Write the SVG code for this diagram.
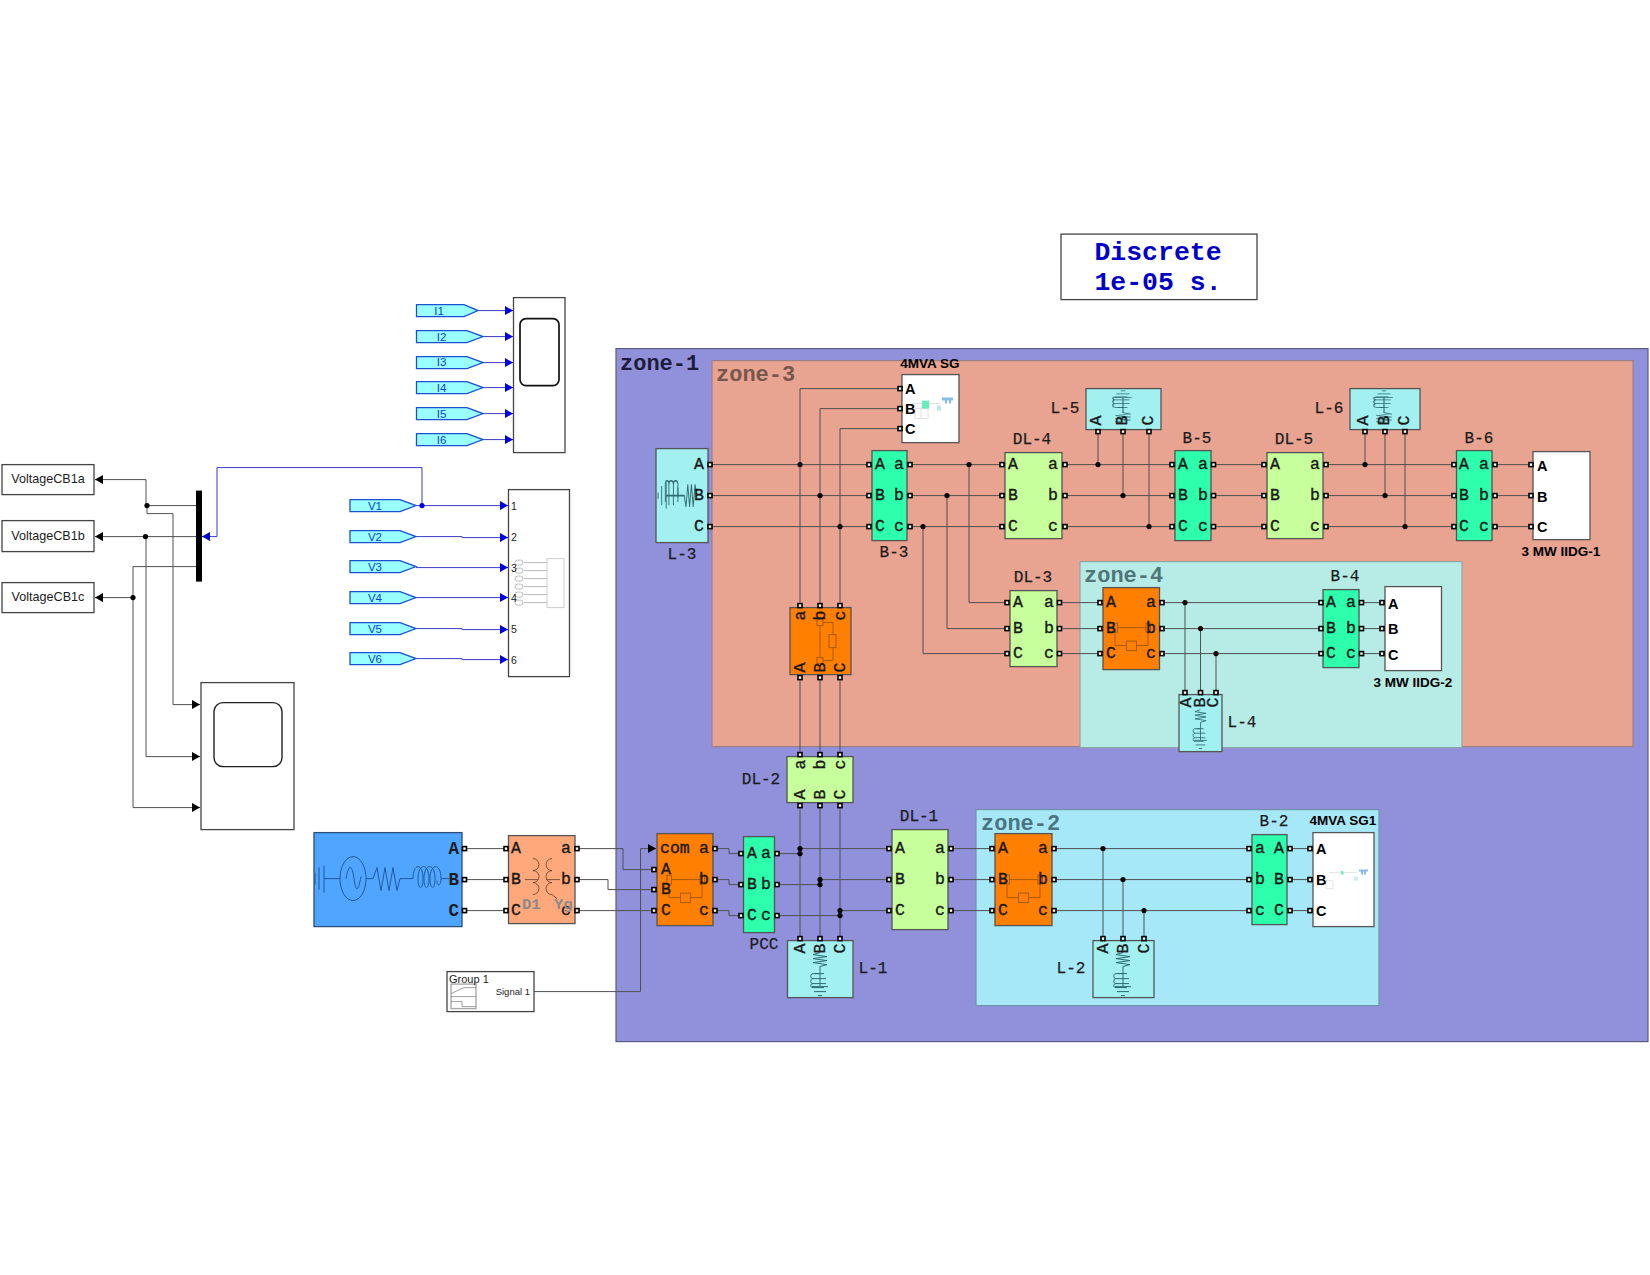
<svg xmlns="http://www.w3.org/2000/svg" width="1650" height="1275" viewBox="0 0 1650 1275">
<style>
text{font-family:"Liberation Mono","DejaVu Sans Mono",monospace;fill:#1c1c1c}
.zone{stroke-width:1.2}
.z{font-size:22px;font-weight:700}
.lb{font-size:16px;text-anchor:middle;dominant-baseline:central;stroke:#1c1c1c;stroke-width:.25}
.b,.br,.bv{font-size:16.5px;dominant-baseline:central;stroke:#111;stroke-width:.35}
.br{text-anchor:end}
.bv{text-anchor:middle}
.big{font-size:17.5px;font-weight:700;stroke:none}
.s{font-family:"Liberation Sans",Arial,sans-serif;font-weight:700;font-size:14.5px;fill:#000;dominant-baseline:central}
.sc{font-family:"Liberation Sans",Arial,sans-serif;font-weight:700;font-size:13.5px;fill:#000;text-anchor:middle;dominant-baseline:central}
.bk{stroke:#555;stroke-width:1.3}
.wire{fill:none;stroke:#505050;stroke-width:1}
.blue{fill:none;stroke:#3a3ac8;stroke-width:1}
.port{fill:#fff;stroke:#000;stroke-width:1.6}
.dot{fill:#000}
.sw{fill:#fff;stroke:#444;stroke-width:1.3}
.goto{fill:#99ffff;stroke:#1c50d0;stroke-width:1.3}
.gt{font-family:"Liberation Sans",Arial,sans-serif;font-size:11.5px;fill:#0a3fd8;text-anchor:middle;dominant-baseline:central}
.num{font-family:"Liberation Sans",Arial,sans-serif;font-size:10.5px;fill:#222;dominant-baseline:central}
.v{font-family:"Liberation Sans",Arial,sans-serif;font-size:12.6px;text-anchor:middle;dominant-baseline:central}
.ic{fill:none;stroke:#2f6a70;stroke-width:1}
.br1{fill:none;stroke:#a85a10;stroke-width:1}
.grey{fill:none;stroke:#bbb;stroke-width:1}
</style>
<defs>
<marker id="ab" markerUnits="userSpaceOnUse" markerWidth="9" markerHeight="10" refX="8" refY="4.5" orient="auto"><path d="M0 0L8 4.500L0 9z" fill="#000"/></marker>
<marker id="bb" markerUnits="userSpaceOnUse" markerWidth="9" markerHeight="10" refX="8" refY="4.5" orient="auto"><path d="M0 0L8 4.500L0 9z" fill="#0000e0"/></marker>
<rect id="p" class="port" x="-2" y="-2" width="4" height="4"/>
<circle id="d" class="dot" r="2.600"/>
<g id="load" class="ic">
<path d="M0 -2L-7 0L7 2L-7 4L7 6L-7 8L7 10L0 12V19H-5"/>
<path d="M-7 19h11M-7 19c-3 0-3 5 0 5h13M-7 24c-3 0-3 5 0 5h13M-7 29c-3 0-3 4 0 4h11"/>
<path d="M0 19V32M-8 32H8M-6 37H6M-2 41H2"/>
</g>
<g id="brk" class="br1">
<rect x="10" y="-4.500" width="4.500" height="9"/>
<rect x="43" y="-4.500" width="4.500" height="9"/>
<path d="M14.500 0H43M12 4.500V18H23.500M33.500 18H45V4.500"/>
<rect x="23.500" y="13.500" width="10" height="9.500"/>
</g>
</defs>
<g transform="translate(0 .6)">

<g id="zones">
<rect id="zone-1" class="zone" x="616" y="348" width="1032" height="693" fill="#9190da" stroke="#5c5c88"/>
<rect id="zone-3" class="zone" x="712" y="360" width="921" height="386" fill="#e8a391" stroke="#9b8088"/>
<rect id="zone-4" class="zone" x="1080" y="561" width="382" height="186" fill="#b7ece6" stroke="#8fa5a5"/>
<rect id="zone-2" class="zone" x="976" y="809" width="403" height="196" fill="#a6e8f8" stroke="#6e93a8"/>
<text class="z" x="620" y="369" style="fill:#1d1d3c">zone-1</text>
<text class="z" x="716" y="380" style="fill:#77574c">zone-3</text>
<text class="z" x="1084" y="581" style="fill:#4f7679">zone-4</text>
<text class="z" x="981" y="829" style="fill:#4a7580">zone-2</text>
</g>

<g id="connectors">
<g class="wire">
<path d="M196 505H147V513H173V704H200" marker-end="url(#ab)"/>
<path d="M147 505H146V479H95" marker-end="url(#ab)"/>
<path d="M196 536H95" marker-end="url(#ab)"/>
<path d="M146 536V756H200" marker-end="url(#ab)"/>
<path d="M196 566H133V807H200" marker-end="url(#ab)"/>
<path d="M133 597H95" marker-end="url(#ab)"/>
<path d="M534 991H640.500V848H656" marker-end="url(#ab)"/>
<path d="M710 464H869M710 495H869M710 526H869"/>
<path d="M800 605V388H900M820 605V408H900M840 605V428H900"/>
<path d="M910 464H1002M910 495H1002M910 526H1002"/>
<path d="M969 464V602H1007M947 495V628H1007M923 526V653H1007"/>
<path d="M1059 602H1100M1059 628H1100M1059 653H1100"/>
<path d="M1065 464H1172M1065 495H1172M1065 526H1172"/>
<path d="M1098 464V431M1123 495V431M1149 526V431"/>
<path d="M1213 464H1264M1213 495H1264M1213 526H1264"/>
<path d="M1326 464H1454M1326 495H1454M1326 526H1454"/>
<path d="M1365 464V431M1385 495V431M1405 526V431"/>
<path d="M1495 464H1531M1495 495H1531M1495 526H1531"/>
<path d="M1162 602H1321M1162 628H1321M1162 653H1321"/>
<path d="M1185 602V692M1200.500 628V692M1216 653V692"/>
<path d="M1361.500 602H1382M1361.500 628H1382M1361.500 653H1382"/>
<path d="M800 677V754M820 677V754M840 677V754"/>
<path d="M800 805V938M820 805V938M840 805V938"/>
<path d="M464 848H506M464 879H506M464 910H506"/>
<path d="M577 848H623V869H654M577 879H608V889H654M577 910H654"/>
<path d="M715 848H729V853H741M715 879H729V884H741M715 910H729V915H741"/>
<path d="M777 853H800M777 884H820M777 915H840"/>
<path d="M800 848H889M820 879H889M840 910H889"/>
<path d="M951 848H992M951 879H992M951 910H992"/>
<path d="M1054 848H1249M1054 879H1249M1054 910H1249"/>
<path d="M1103 848V938M1123 879V938M1144 910V938"/>
<path d="M1290 848H1310M1290 879H1310M1290 910H1310"/>
</g>
<g class="blue">
<path d="M478 310H513" marker-end="url(#bb)"/>
<path d="M483 336H513" marker-end="url(#bb)"/>
<path d="M483 362H513" marker-end="url(#bb)"/>
<path d="M483 387H513" marker-end="url(#bb)"/>
<path d="M483 413H513" marker-end="url(#bb)"/>
<path d="M483 439H513" marker-end="url(#bb)"/>
<path d="M416 505H508" marker-end="url(#bb)"/>
<path d="M416 536H462V537H508" marker-end="url(#bb)"/>
<path d="M416 567H508" marker-end="url(#bb)"/>
<path d="M416 597H508" marker-end="url(#bb)"/>
<path d="M416 628H462V629H508" marker-end="url(#bb)"/>
<path d="M416 658H462V659H508" marker-end="url(#bb)"/>
<path d="M422 505V467H217V536H202" marker-end="url(#bb)"/>
</g>
<circle cx="422" cy="505" r="2.600" fill="#0000e0"/>
<g>
<use href="#d" x="147" y="505"/><use href="#d" x="145.500" y="536"/><use href="#d" x="133" y="597"/>
<use href="#d" x="800" y="464"/><use href="#d" x="820" y="495"/><use href="#d" x="840" y="526"/>
<use href="#d" x="969" y="464"/><use href="#d" x="947" y="495"/><use href="#d" x="923" y="526"/>
<use href="#d" x="1098" y="464"/><use href="#d" x="1123" y="495"/><use href="#d" x="1149" y="526"/>
<use href="#d" x="1365" y="464"/><use href="#d" x="1385" y="495"/><use href="#d" x="1405" y="526"/>
<use href="#d" x="1185" y="602"/><use href="#d" x="1200.500" y="628"/><use href="#d" x="1216" y="653"/>
<use href="#d" x="800" y="848"/><use href="#d" x="800" y="853"/><use href="#d" x="820" y="879"/><use href="#d" x="820" y="884"/><use href="#d" x="840" y="910"/><use href="#d" x="840" y="915"/>
<use href="#d" x="1103" y="848"/><use href="#d" x="1123" y="879"/><use href="#d" x="1144" y="910"/>
</g>
</g>

<g id="powergui">
<rect class="sw" x="1061" y="233.500" width="196" height="65.500"/>
<text x="1158" y="259" text-anchor="middle" font-weight="700" style="fill:#0000c8;font-size:26.500px">Discrete</text>
<text x="1158" y="289" text-anchor="middle" font-weight="700" style="fill:#0000c8;font-size:26.500px">1e-05 s.</text>
</g>

<g id="from-voltage">
<g id="VoltageCB1a"><rect class="sw" x="2" y="464" width="92" height="30"/><text class="v" x="48" y="478.500">VoltageCB1a</text></g>
<g id="VoltageCB1b"><rect class="sw" x="2" y="520" width="92" height="31"/><text class="v" x="48" y="535">VoltageCB1b</text></g>
<g id="VoltageCB1c"><rect class="sw" x="2" y="582" width="92" height="30"/><text class="v" x="48" y="596">VoltageCB1c</text></g>
</g>
<rect id="demux" x="196" y="490" width="6" height="91" fill="#000"/>
<g id="scope-voltage">
<rect class="sw" x="201" y="682" width="93" height="147"/>
<rect x="214" y="702" width="68" height="64" rx="9" fill="#fff" stroke="#222" stroke-width="1.400"/>
</g>
<g id="scope-current">
<rect class="sw" x="513.500" y="297" width="51.500" height="155"/>
<rect x="520" y="318" width="39" height="67" rx="6" fill="#fff" stroke="#111" stroke-width="1.700"/>
</g>
<g id="gotos-I">
<path class="goto" d="M416.500 304H464L478 310L464 316H416.500z"/><text class="gt" x="439" y="310">I1</text>
<path class="goto" d="M416.500 330H467L483 336L467 342H416.500z"/><text class="gt" x="441.500" y="336">I2</text>
<path class="goto" d="M416.500 356H467L483 362L467 368H416.500z"/><text class="gt" x="441.500" y="361">I3</text>
<path class="goto" d="M416.500 381H467L483 387L467 393H416.500z"/><text class="gt" x="441.500" y="387">I4</text>
<path class="goto" d="M416.500 407H467L483 413L467 419H416.500z"/><text class="gt" x="441.500" y="413">I5</text>
<path class="goto" d="M416.500 433H467L483 439L467 445H416.500z"/><text class="gt" x="441.500" y="439">I6</text>
</g>
<g id="gotos-V">
<path class="goto" d="M350 499H400L416 505L400 511H350z"/><text class="gt" x="375" y="505">V1</text>
<path class="goto" d="M350 530H400L416 536L400 542H350z"/><text class="gt" x="375" y="536">V2</text>
<path class="goto" d="M350 560H400L416 566L400 572H350z"/><text class="gt" x="375" y="566">V3</text>
<path class="goto" d="M350 591H400L416 597L400 603H350z"/><text class="gt" x="375" y="597">V4</text>
<path class="goto" d="M350 622H400L416 628L400 634H350z"/><text class="gt" x="375" y="628">V5</text>
<path class="goto" d="M350 652H400L416 658L400 664H350z"/><text class="gt" x="375" y="658">V6</text>
</g>
<g id="scope-logger">
<rect class="sw" x="508.500" y="489" width="61" height="187"/>
<rect x="547" y="558" width="17" height="49" fill="#fff" stroke="#ccc"/>
<path class="grey" d="M524 562H547M524 570H547M524 578H547M524 586H547M524 594H547M524 602H547"/>
<g class="grey" style="fill:#fff"><rect x="515" y="559.500" width="8" height="5" rx="2.500"/><rect x="515" y="567.500" width="8" height="5" rx="2.500"/><rect x="515" y="575.500" width="8" height="5" rx="2.500"/><rect x="515" y="583.500" width="8" height="5" rx="2.500"/><rect x="515" y="591.500" width="8" height="5" rx="2.500"/><rect x="515" y="599.500" width="8" height="5" rx="2.500"/></g>
<text class="num" x="511" y="505">1</text><text class="num" x="511" y="536">2</text><text class="num" x="511" y="567">3</text><text class="num" x="511" y="597">4</text><text class="num" x="511" y="628">5</text><text class="num" x="511" y="659">6</text>
</g>

<g id="source">
<rect x="314" y="832" width="148" height="94" fill="#4fa5ff" stroke="#2a4f7a" stroke-width="1.300"/>
<g fill="none" stroke="#1f5a9e" stroke-width="1">
<path d="M315 872V884M319 867V889M324 865V892M324 878H340"/>
<ellipse cx="353" cy="878" rx="13" ry="22"/>
<path d="M346 878C349 862 352 864 354 878S358 892 361 876M366 878H373L377 867L381 890L385 867L389 890L393 867L397 890L400 878H413"/>
<path d="M413 878C413 862 423 862 423 878C423 890 418 890 418 878C418 862 429 862 429 878C429 890 424 890 424 878C424 862 435 862 435 878C435 890 430 890 430 878C430 862 441 862 441 878C441 886 437 886 437 880M441 878H449"/>
</g>
<text class="br big" x="459" y="848">A</text><text class="br big" x="459" y="879">B</text><text class="br big" x="459" y="910">C</text>
<use href="#p" x="464.500" y="848"/><use href="#p" x="464.500" y="879"/><use href="#p" x="464.500" y="910"/>
</g>

<g id="transformer">
<rect class="bk" x="508.500" y="835" width="66.500" height="88" fill="#ffa87c"/>
<g fill="none" stroke="#6e4a30" stroke-width=".9">
<path d="M533 858a6 6 0 0 1 0 12a6 6 0 0 1 0 12a6 6 0 0 1 0 12M525 879H538"/>
<path d="M552 858a6 6 0 0 0 0 12a6 6 0 0 0 0 12a6 6 0 0 0 0 12L557 898M546 879H560"/>
</g>
<text class="b" x="511" y="848">A</text><text class="b" x="511" y="879">B</text><text class="b" x="511" y="910">C</text>
<text class="br" x="571" y="848">a</text><text class="br" x="571" y="879">b</text><text class="br" x="571" y="910">c</text>
<text x="522" y="908" style="fill:#8b8b8b;font-size:15.500px;font-weight:700">D1</text>
<text x="554" y="908" style="fill:#8b8b8b;font-size:15.500px;font-weight:700">Yg</text>
<use href="#p" x="506" y="848"/><use href="#p" x="506" y="879"/><use href="#p" x="506" y="910"/>
<use href="#p" x="577" y="848"/><use href="#p" x="577" y="879"/><use href="#p" x="577" y="910"/>
</g>

<g id="group1">
<rect class="sw" x="447" y="971" width="87" height="40"/>
<rect x="451" y="983.500" width="25" height="24.500" fill="#fff" stroke="#aaa" stroke-width="1.400"/>
<path d="M451 996H476M451 993L464 987H476M451 1001H462V1006H476" fill="none" stroke="#888" stroke-width=".8"/>
<text x="449" y="982" style="font-family:'Liberation Sans',sans-serif;font-size:11px">Group 1</text>
<text x="530" y="991" text-anchor="end" dominant-baseline="central" style="font-family:'Liberation Sans',sans-serif;font-size:9.500px">Signal 1</text>
</g>

<g id="breaker-com">
<rect class="bk" x="657" y="833" width="56" height="92" fill="#ff7f00"/>
<use href="#brk" x="657" y="879"/>
<text class="b" x="660" y="848">com</text><text class="br" x="709" y="848">a</text>
<text class="b" x="661" y="869">A</text><text class="b" x="661" y="889">B</text><text class="b" x="661" y="910">C</text>
<text class="br" x="709" y="879">b</text><text class="br" x="709" y="910">c</text>
<use href="#p" x="654" y="869"/><use href="#p" x="654" y="889"/><use href="#p" x="654" y="910"/>
<use href="#p" x="715" y="848"/><use href="#p" x="715" y="879"/><use href="#p" x="715" y="910"/>
</g>

<g id="PCC">
<rect class="bk" x="743.500" y="836" width="31" height="96" fill="#2dffad"/>
<text class="b" x="747" y="853">A</text><text class="b" x="747" y="884">B</text><text class="b" x="747" y="915">C</text>
<text class="br" x="771" y="853">a</text><text class="br" x="771" y="884">b</text><text class="br" x="771" y="915">c</text>
<use href="#p" x="741" y="853"/><use href="#p" x="741" y="884"/><use href="#p" x="741" y="915"/>
<use href="#p" x="777" y="853"/><use href="#p" x="777" y="884"/><use href="#p" x="777" y="915"/>
<text class="lb" x="764" y="944">PCC</text>
</g>

<g id="DL-2">
<rect class="bk" x="787" y="756" width="66" height="46" fill="#c6ff9b"/>
<text class="bv" transform="translate(800 764) rotate(-90)">a</text><text class="bv" transform="translate(820 764) rotate(-90)">b</text><text class="bv" transform="translate(840 764) rotate(-90)">c</text>
<text class="bv" transform="translate(800 794) rotate(-90)">A</text><text class="bv" transform="translate(820 794) rotate(-90)">B</text><text class="bv" transform="translate(840 794) rotate(-90)">C</text>
<use href="#p" x="800" y="754"/><use href="#p" x="820" y="754"/><use href="#p" x="840" y="754"/>
<use href="#p" x="800" y="805"/><use href="#p" x="820" y="805"/><use href="#p" x="840" y="805"/>
<text class="lb" x="761" y="779">DL-2</text>
</g>

<g id="L-1">
<rect class="bk" x="787.500" y="940" width="65.500" height="57" fill="#a3f0f0"/>
<use href="#load" x="820" y="954"/>
<text class="bv" transform="translate(800 948) rotate(-90)">A</text><text class="bv" transform="translate(820 948) rotate(-90)">B</text><text class="bv" transform="translate(840 948) rotate(-90)">C</text>
<use href="#p" x="800" y="938"/><use href="#p" x="820" y="938"/><use href="#p" x="840" y="938"/>
<text class="lb" x="873" y="968">L-1</text>
</g>

<g id="DL-1">
<rect class="bk" x="892" y="829" width="56" height="100" fill="#c6ff9b"/>
<text class="b" x="895" y="848">A</text><text class="b" x="895" y="879">B</text><text class="b" x="895" y="910">C</text>
<text class="br" x="945" y="848">a</text><text class="br" x="945" y="879">b</text><text class="br" x="945" y="910">c</text>
<use href="#p" x="889" y="848"/><use href="#p" x="889" y="879"/><use href="#p" x="889" y="910"/>
<use href="#p" x="951" y="848"/><use href="#p" x="951" y="879"/><use href="#p" x="951" y="910"/>
<text class="lb" x="919" y="816">DL-1</text>
</g>

<g id="breaker-2">
<rect class="bk" x="995" y="833" width="57" height="92" fill="#ff7f00"/>
<use href="#brk" x="995" y="879"/>
<text class="b" x="998" y="848">A</text><text class="b" x="998" y="879">B</text><text class="b" x="998" y="910">C</text>
<text class="br" x="1048" y="848">a</text><text class="br" x="1048" y="879">b</text><text class="br" x="1048" y="910">c</text>
<use href="#p" x="992" y="848"/><use href="#p" x="992" y="879"/><use href="#p" x="992" y="910"/>
<use href="#p" x="1054" y="848"/><use href="#p" x="1054" y="879"/><use href="#p" x="1054" y="910"/>
</g>

<g id="L-2">
<rect class="bk" x="1093" y="940" width="61" height="57" fill="#a3f0f0"/>
<use href="#load" x="1123" y="954"/>
<text class="bv" transform="translate(1103 948) rotate(-90)">A</text><text class="bv" transform="translate(1123 948) rotate(-90)">B</text><text class="bv" transform="translate(1144 948) rotate(-90)">C</text>
<use href="#p" x="1103" y="938"/><use href="#p" x="1123" y="938"/><use href="#p" x="1144" y="938"/>
<text class="lb" x="1071" y="968">L-2</text>
</g>

<g id="B-2">
<rect class="bk" x="1252" y="834" width="35" height="90" fill="#2dffad"/>
<text class="b" x="1255" y="848">a</text><text class="b" x="1255" y="879">b</text><text class="b" x="1255" y="910">c</text>
<text class="br" x="1284" y="848">A</text><text class="br" x="1284" y="879">B</text><text class="br" x="1284" y="910">C</text>
<use href="#p" x="1249" y="848"/><use href="#p" x="1249" y="879"/><use href="#p" x="1249" y="910"/>
<use href="#p" x="1290" y="848"/><use href="#p" x="1290" y="879"/><use href="#p" x="1290" y="910"/>
<text class="lb" x="1274" y="821">B-2</text>
</g>

<g id="SG1">
<rect class="bk" x="1313" y="832" width="61" height="94" fill="#fff"/>
<path d="M1329 872H1357M1326 880H1333V888H1326z" fill="none" stroke="#ddd" stroke-width=".8"/>
<rect x="1341" y="870.500" width="2.500" height="3.500" fill="#66eebb"/>
<path d="M1359 869H1368V871H1366V874H1364V871H1363V874H1361V871H1359z" fill="#88bbe8"/>
<rect x="1354" y="876" width="4" height="4" fill="#c8eef4"/>
<text class="s" x="1316" y="848">A</text><text class="s" x="1316" y="879">B</text><text class="s" x="1316" y="910">C</text>
<use href="#p" x="1310" y="848"/><use href="#p" x="1310" y="879"/><use href="#p" x="1310" y="910"/>
<text class="sc" x="1343" y="820">4MVA SG1</text>
</g>

<g id="L-3">
<rect class="bk" x="656" y="448" width="52" height="94" fill="#a3f0f0"/>
<use href="#load" transform="translate(695 495) rotate(90) scale(1.600 .9)"/>
<text class="br" x="704" y="464">A</text><text class="br" x="704" y="495">B</text><text class="br" x="704" y="526">C</text>
<use href="#p" x="710" y="464"/><use href="#p" x="710" y="495"/><use href="#p" x="710" y="526"/>
<text class="lb" x="682" y="554">L-3</text>
</g>

<g id="SG">
<rect class="bk" x="902" y="374" width="57" height="68" fill="#fff"/>
<path d="M912 403H940M915 408H928V418H915zM921 408V418" fill="none" stroke="#ddd" stroke-width=".9"/>
<rect x="922" y="400" width="7" height="8" fill="#66eebb"/>
<path d="M942 397H953V400H951V403H949V400H947V403H945V400H942z" fill="#88bbe8"/>
<rect x="937" y="405" width="4" height="5" fill="#bfe6f0"/>
<text class="s" x="905" y="388">A</text><text class="s" x="905" y="408">B</text><text class="s" x="905" y="428">C</text>
<use href="#p" x="900" y="388"/><use href="#p" x="900" y="408"/><use href="#p" x="900" y="428"/>
<text class="sc" x="930" y="363">4MVA SG</text>
</g>

<g id="B-3">
<rect class="bk" x="872" y="450" width="35" height="90" fill="#2dffad"/>
<text class="b" x="875" y="464">A</text><text class="b" x="875" y="495">B</text><text class="b" x="875" y="526">C</text>
<text class="br" x="904" y="464">a</text><text class="br" x="904" y="495">b</text><text class="br" x="904" y="526">c</text>
<use href="#p" x="869" y="464"/><use href="#p" x="869" y="495"/><use href="#p" x="869" y="526"/>
<use href="#p" x="910" y="464"/><use href="#p" x="910" y="495"/><use href="#p" x="910" y="526"/>
<text class="lb" x="894" y="552">B-3</text>
</g>

<g id="DL-4">
<rect class="bk" x="1005" y="452" width="57" height="86" fill="#c6ff9b"/>
<text class="b" x="1008" y="464">A</text><text class="b" x="1008" y="495">B</text><text class="b" x="1008" y="526">C</text>
<text class="br" x="1058" y="464">a</text><text class="br" x="1058" y="495">b</text><text class="br" x="1058" y="526">c</text>
<use href="#p" x="1002" y="464"/><use href="#p" x="1002" y="495"/><use href="#p" x="1002" y="526"/>
<use href="#p" x="1065" y="464"/><use href="#p" x="1065" y="495"/><use href="#p" x="1065" y="526"/>
<text class="lb" x="1032" y="439">DL-4</text>
</g>

<g id="L-5">
<rect class="bk" x="1086" y="388" width="75" height="41" fill="#a3f0f0"/>
<use href="#load" transform="translate(1123 421) scale(1.100 -.75)"/>
<text class="bv" transform="translate(1096 420) rotate(-90)">A</text><text class="bv" transform="translate(1122 420) rotate(-90)">B</text><text class="bv" transform="translate(1148 420) rotate(-90)">C</text>
<use href="#p" x="1098" y="431"/><use href="#p" x="1123" y="431"/><use href="#p" x="1149" y="431"/>
<text class="lb" x="1065" y="408">L-5</text>
</g>

<g id="B-5">
<rect class="bk" x="1175" y="450" width="36" height="90" fill="#2dffad"/>
<text class="b" x="1178" y="464">A</text><text class="b" x="1178" y="495">B</text><text class="b" x="1178" y="526">C</text>
<text class="br" x="1208" y="464">a</text><text class="br" x="1208" y="495">b</text><text class="br" x="1208" y="526">c</text>
<use href="#p" x="1172" y="464"/><use href="#p" x="1172" y="495"/><use href="#p" x="1172" y="526"/>
<use href="#p" x="1213.500" y="464"/><use href="#p" x="1213.500" y="495"/><use href="#p" x="1213.500" y="526"/>
<text class="lb" x="1197" y="438">B-5</text>
</g>

<g id="DL-5">
<rect class="bk" x="1267" y="452" width="56" height="86" fill="#c6ff9b"/>
<text class="b" x="1270" y="464">A</text><text class="b" x="1270" y="495">B</text><text class="b" x="1270" y="526">C</text>
<text class="br" x="1320" y="464">a</text><text class="br" x="1320" y="495">b</text><text class="br" x="1320" y="526">c</text>
<use href="#p" x="1264" y="464"/><use href="#p" x="1264" y="495"/><use href="#p" x="1264" y="526"/>
<use href="#p" x="1326" y="464"/><use href="#p" x="1326" y="495"/><use href="#p" x="1326" y="526"/>
<text class="lb" x="1294" y="439">DL-5</text>
</g>

<g id="L-6">
<rect class="bk" x="1350" y="388" width="70" height="41" fill="#a3f0f0"/>
<use href="#load" transform="translate(1384 421) scale(1.100 -.75)"/>
<text class="bv" transform="translate(1363 420) rotate(-90)">A</text><text class="bv" transform="translate(1384 420) rotate(-90)">B</text><text class="bv" transform="translate(1404 420) rotate(-90)">C</text>
<use href="#p" x="1365" y="431"/><use href="#p" x="1385" y="431"/><use href="#p" x="1405" y="431"/>
<text class="lb" x="1329" y="408">L-6</text>
</g>

<g id="B-6">
<rect class="bk" x="1456.500" y="450" width="35.500" height="90" fill="#2dffad"/>
<text class="b" x="1459" y="464">A</text><text class="b" x="1459" y="495">B</text><text class="b" x="1459" y="526">C</text>
<text class="br" x="1489" y="464">a</text><text class="br" x="1489" y="495">b</text><text class="br" x="1489" y="526">c</text>
<use href="#p" x="1454" y="464"/><use href="#p" x="1454" y="495"/><use href="#p" x="1454" y="526"/>
<use href="#p" x="1495" y="464"/><use href="#p" x="1495" y="495"/><use href="#p" x="1495" y="526"/>
<text class="lb" x="1479" y="438">B-6</text>
</g>

<g id="IIDG-1">
<rect class="bk" x="1533" y="451" width="57" height="88" fill="#fff"/>
<text class="s" x="1537" y="465">A</text><text class="s" x="1537" y="496">B</text><text class="s" x="1537" y="526">C</text>
<use href="#p" x="1531" y="464"/><use href="#p" x="1531" y="495"/><use href="#p" x="1531" y="526"/>
<text class="sc" x="1561" y="551">3 MW IIDG-1</text>
</g>

<g id="DL-3">
<rect class="bk" x="1010" y="590" width="47" height="76" fill="#c6ff9b"/>
<text class="b" x="1013" y="602">A</text><text class="b" x="1013" y="628">B</text><text class="b" x="1013" y="653">C</text>
<text class="br" x="1054" y="602">a</text><text class="br" x="1054" y="628">b</text><text class="br" x="1054" y="653">c</text>
<use href="#p" x="1007" y="602"/><use href="#p" x="1007" y="628"/><use href="#p" x="1007" y="653"/>
<use href="#p" x="1059.500" y="602"/><use href="#p" x="1059.500" y="628"/><use href="#p" x="1059.500" y="653"/>
<text class="lb" x="1033" y="577">DL-3</text>
</g>

<g id="breaker-4">
<rect class="bk" x="1103" y="587" width="56.500" height="82" fill="#ff7f00"/>
<use href="#brk" x="1103" y="627"/>
<text class="b" x="1106" y="602">A</text><text class="b" x="1106" y="628">B</text><text class="b" x="1106" y="653">C</text>
<text class="br" x="1156" y="602">a</text><text class="br" x="1156" y="628">b</text><text class="br" x="1156" y="653">c</text>
<use href="#p" x="1100" y="602"/><use href="#p" x="1100" y="628"/><use href="#p" x="1100" y="653"/>
<use href="#p" x="1162" y="602"/><use href="#p" x="1162" y="628"/><use href="#p" x="1162" y="653"/>
</g>

<g id="L-4">
<rect class="bk" x="1179" y="694" width="43" height="57" fill="#a3f0f0"/>
<use href="#load" transform="translate(1200.500 711) scale(.8 .9)"/>
<text class="bv" transform="translate(1186 702) rotate(-90)">A</text><text class="bv" transform="translate(1200 702) rotate(-90)">B</text><text class="bv" transform="translate(1213 702) rotate(-90)">C</text>
<use href="#p" x="1185" y="692"/><use href="#p" x="1200.500" y="692"/><use href="#p" x="1216" y="692"/>
<text class="lb" x="1242" y="722">L-4</text>
</g>

<g id="B-4">
<rect class="bk" x="1323" y="589" width="36" height="78" fill="#2dffad"/>
<text class="b" x="1326" y="602">A</text><text class="b" x="1326" y="628">B</text><text class="b" x="1326" y="653">C</text>
<text class="br" x="1356" y="602">a</text><text class="br" x="1356" y="628">b</text><text class="br" x="1356" y="653">c</text>
<use href="#p" x="1321" y="602"/><use href="#p" x="1321" y="628"/><use href="#p" x="1321" y="653"/>
<use href="#p" x="1361.500" y="602"/><use href="#p" x="1361.500" y="628"/><use href="#p" x="1361.500" y="653"/>
<text class="lb" x="1345" y="576">B-4</text>
</g>

<g id="IIDG-2">
<rect class="bk" x="1385" y="586" width="56.500" height="84" fill="#fff"/>
<text class="s" x="1388" y="603">A</text><text class="s" x="1388" y="628">B</text><text class="s" x="1388" y="654">C</text>
<use href="#p" x="1382" y="602"/><use href="#p" x="1382" y="628"/><use href="#p" x="1382" y="653"/>
<text class="sc" x="1413" y="682">3 MW IIDG-2</text>
</g>

<g id="breaker-v">
<rect class="bk" x="790" y="607" width="61" height="67" fill="#ff7f00"/>
<g class="br1">
<rect x="817" y="619" width="6" height="6"/>
<rect x="817" y="657" width="6" height="6"/>
<rect x="829" y="634" width="7" height="13"/>
<path d="M820 625V657M823 622H833V634M833 647V660H823"/>
</g>
<text class="bv" transform="translate(800 615) rotate(-90)">a</text><text class="bv" transform="translate(820 615) rotate(-90)">b</text><text class="bv" transform="translate(840 615) rotate(-90)">c</text>
<text class="bv" transform="translate(800 667) rotate(-90)">A</text><text class="bv" transform="translate(820 667) rotate(-90)">B</text><text class="bv" transform="translate(840 667) rotate(-90)">C</text>
<use href="#p" x="800" y="605"/><use href="#p" x="820" y="605"/><use href="#p" x="840" y="605"/>
<use href="#p" x="800" y="677"/><use href="#p" x="820" y="677"/><use href="#p" x="840" y="677"/>
</g>
</g>
</svg>
